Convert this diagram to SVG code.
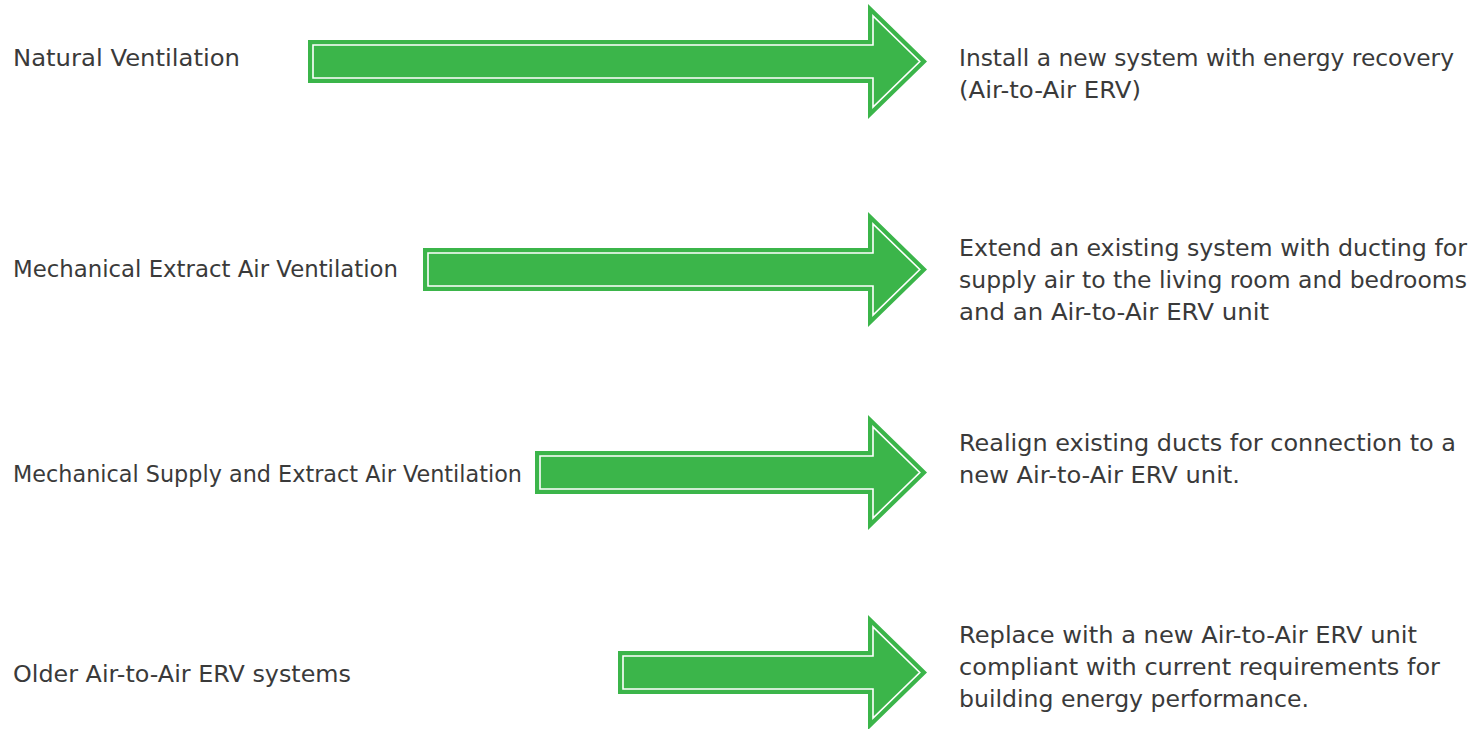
<svg xmlns="http://www.w3.org/2000/svg" width="1482" height="729" viewBox="0 0 1482 729">
<style>
.bg{fill:#ffffff}
.outer{fill:#3bb54a}
.inner{fill:#3bb54a;stroke:#ffffff;stroke-width:1.6;stroke-linejoin:miter}
.t{font-family:"DejaVu Sans","Liberation Sans",sans-serif;font-size:22.5px;font-weight:400;fill:#3a3a3a}
</style>
<rect class="bg" x="0" y="0" width="1482" height="729"/>
<g id="labels-left">
<g id="n1"><text class="t" x="13" y="66" textLength="227" lengthAdjust="spacingAndGlyphs">Natural Ventilation</text></g>
<g id="n2"><text class="t" x="13" y="277" textLength="385" lengthAdjust="spacingAndGlyphs">Mechanical Extract Air Ventilation</text></g>
<g id="n3"><text class="t" x="13" y="482" textLength="509" lengthAdjust="spacingAndGlyphs">Mechanical Supply and Extract Air Ventilation</text></g>
<g id="n4"><text class="t" x="13" y="682" textLength="338" lengthAdjust="spacingAndGlyphs">Older Air-to-Air ERV systems</text></g>
</g>
<g id="connectors">
<g id="a1">
<polygon class="outer" points="308,40 868,40 868,4 927,61.5 868,119 868,83 308,83"/>
<polygon class="inner" points="313,45 873,45 873,15.9 919.8,61.5 873,107.1 873,78 313,78"/>
</g>
<g id="a2">
<polygon class="outer" points="423,248 868,248 868,212 927,269.5 868,327 868,291 423,291"/>
<polygon class="inner" points="428,253 873,253 873,223.9 919.8,269.5 873,315.1 873,286 428,286"/>
</g>
<g id="a3">
<polygon class="outer" points="535,451 868,451 868,415 927,472.5 868,530 868,494 535,494"/>
<polygon class="inner" points="540,456 873,456 873,426.9 919.8,472.5 873,518.1 873,489 540,489"/>
</g>
<g id="a4">
<polygon class="outer" points="618,651 868,651 868,615 927,672.5 868,730 868,694 618,694"/>
<polygon class="inner" points="623,656 873,656 873,626.9 919.8,672.5 873,718.1 873,689 623,689"/>
</g>
</g>
<g id="labels-right">
<g id="r1">
<text class="t" x="959" y="66" textLength="495" lengthAdjust="spacingAndGlyphs">Install a new system with energy recovery</text>
<text class="t" x="959" y="98" textLength="182" lengthAdjust="spacingAndGlyphs">(Air-to-Air ERV)</text>
</g>
<g id="r2">
<text class="t" x="959" y="256" textLength="508" lengthAdjust="spacingAndGlyphs">Extend an existing system with ducting for</text>
<text class="t" x="959" y="288" textLength="508" lengthAdjust="spacingAndGlyphs">supply air to the living room and bedrooms</text>
<text class="t" x="959" y="320" textLength="310" lengthAdjust="spacingAndGlyphs">and an Air-to-Air ERV unit</text>
</g>
<g id="r3">
<text class="t" x="959" y="451" textLength="497" lengthAdjust="spacingAndGlyphs">Realign existing ducts for connection to a</text>
<text class="t" x="959" y="483" textLength="281" lengthAdjust="spacingAndGlyphs">new Air-to-Air ERV unit.</text>
</g>
<g id="r4">
<text class="t" x="959" y="643" textLength="458" lengthAdjust="spacingAndGlyphs">Replace with a new Air-to-Air ERV unit</text>
<text class="t" x="959" y="675" textLength="481" lengthAdjust="spacingAndGlyphs">compliant with current requirements for</text>
<text class="t" x="959" y="707" textLength="350" lengthAdjust="spacingAndGlyphs">building energy performance.</text>
</g>
</g>
</svg>
